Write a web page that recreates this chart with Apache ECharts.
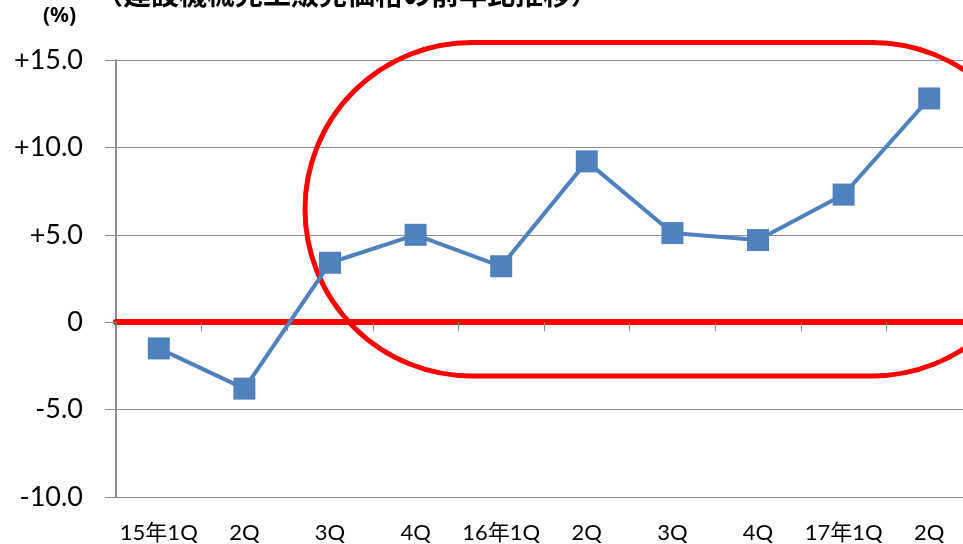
<!DOCTYPE html>
<html>
<head>
<meta charset="utf-8">
<script src="https://cdn.jsdelivr.net/npm/echarts@6/dist/echarts.min.js"></script>
<style>html,body{margin:0;padding:0;background:#fff;overflow:hidden;}#c{width:963px;height:544px;}</style>
</head>
<body>
<div id="c"></div>
<script>
const categories = ['15年1Q', '2Q', '3Q', '4Q', '16年1Q', '2Q', '3Q', '4Q', '17年1Q', '2Q'];
const priceChange = [-1.5, -3.8, 3.4, 5.0, 3.2, 9.2, 5.1, 4.7, 7.3, 12.8];
const yTickValues = [-10, -5, 0, 5, 10, 15];
const yTickLabels = ['-10.0', '-5.0', '0', '+5.0', '+10.0', '+15.0'];
const titleText = '（建設機械完工販売価格の前年比推移）';
const unitText = '(%)';

const chart = echarts.init(document.getElementById('c'), null, {renderer: 'canvas'});
const latin = 'Lato, "Noto Sans CJK JP", sans-serif';

chart.setOption({
  animation: false,
  backgroundColor: '#ffffff',
  grid: {left: 116, top: 60, width: 856, height: 437, containLabel: false, outerBoundsMode: 'none'},
  xAxis: [
    {
      type: 'category',
      data: categories,
      boundaryGap: true,
      axisLine: {show: true, onZero: true, lineStyle: {color: '#ff0000', width: 6}},
      axisTick: {show: true, interval: 0, length: 9, lineStyle: {color: '#8c8c8c', width: 1}},
      axisLabel: {show: false},
      splitLine: {show: false}
    },
    {
      type: 'category',
      data: categories,
      position: 'bottom',
      boundaryGap: true,
      axisLine: {show: false, onZero: false},
      axisTick: {show: false},
      axisLabel: {show: true, interval: 0, margin: 25, color: '#000', fontSize: 22, fontFamily: latin},
      splitLine: {show: false}
    }
  ],
  yAxis: {
    type: 'value',
    min: yTickValues[0],
    max: yTickValues[yTickValues.length - 1],
    interval: 5,
    axisLine: {show: true, lineStyle: {color: '#8c8c8c', width: 2}},
    axisTick: {show: true, length: 11, lineStyle: {color: '#8c8c8c', width: 1}},
    axisLabel: {
      margin: 33,
      color: '#000',
      fontSize: 27,
      fontFamily: latin,
      formatter: function (v) {
        const i = yTickValues.indexOf(v);
        return i >= 0 ? yTickLabels[i] : '';
      }
    },
    splitLine: {show: true, lineStyle: {color: '#8c8c8c', width: 1}}
  },
  graphic: [
    {
      type: 'rect',
      z: 1,
      silent: true,
      shape: {x: 305, y: 42.5, width: 734, height: 333.5, r: 166.75},
      style: {fill: 'none', stroke: '#ff0000', lineWidth: 5}
    },
    {
      type: 'text',
      left: 95,
      top: -20,
      silent: true,
      style: {text: titleText, fill: '#000', font: 'bold 28px "Noto Sans CJK JP", sans-serif'}
    },
    {
      type: 'text',
      left: 43,
      top: 6,
      silent: true,
      style: {text: unitText, fill: '#000', font: 'bold 21px "Noto Sans", sans-serif'}
    }
  ],
  series: [
    {
      type: 'line',
      xAxisIndex: 0,
      data: priceChange,
      symbol: 'rect',
      symbolSize: 22,
      z: 5,
      itemStyle: {color: '#4f81bd'},
      lineStyle: {color: '#4f81bd', width: 4}
    }
  ]
});
</script>
</body>
</html>
